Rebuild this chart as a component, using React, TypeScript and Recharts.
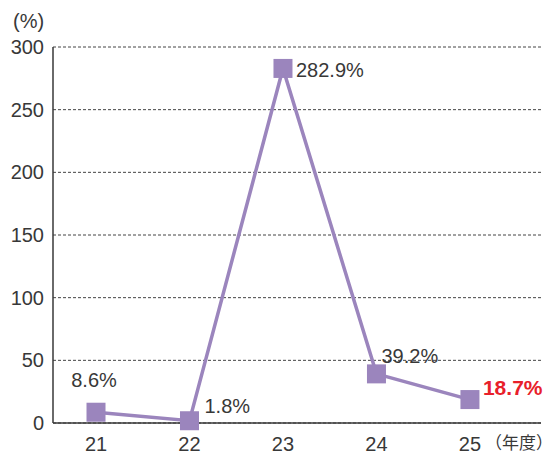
import React from 'react';
import { LineChart, Line, XAxis, YAxis, CartesianGrid, LabelList } from 'recharts';

const years = [21, 22, 23, 24, 25];
const growth = [8.6, 1.8, 282.9, 39.2, 18.7];
const growthLabels = ['8.6%', '1.8%', '282.9%', '39.2%', '18.7%'];
const yTicks = [0, 50, 100, 150, 200, 250, 300];

const data = years.map((y, i) => ({ year: y, value: growth[i], label: growthLabels[i] }));

const PURPLE = '#9b85bd';
const TEXT = '#383838';
const FONT = '"Liberation Sans", Arial, sans-serif';

// where each value label sits relative to its point
const labelPlacement = [
    { dx: -2, dy: -25, anchor: 'middle' },
    { dx: 15, dy: -8, anchor: 'start' },
    { dx: 13, dy: 9, anchor: 'start' },
    { dx: 5, dy: -11, anchor: 'start' },
    { dx: 13, dy: -5, anchor: 'start' },
];

const SquareDot = (props: any) => {
    const { cx, cy } = props;
    if (cx == null || cy == null) return null;
    return <rect x={cx - 9.5} y={cy - 9.5} width={19} height={19} fill={PURPLE} />;
};

const ValueLabel = (props: any) => {
    const { x, y, index, value } = props;
    const p = labelPlacement[index];
    const last = index === growth.length - 1;
    return (
        <text
            x={x + p.dx}
            y={y + p.dy}
            textAnchor={p.anchor}
            fontFamily={FONT}
            fontSize={last ? 21 : 20}
            fontWeight={last ? 'bold' : 'normal'}
            fill={last ? '#e8202a' : TEXT}
        >
            {value}
        </text>
    );
};

const App: React.FC = () => {
    return (
        <div style={{ position: 'absolute', left: 0, top: 0, width: 553, height: 454, background: '#fff', overflow: 'hidden' }}>
            <LineChart width={553} height={454} data={data} margin={{ top: 47, right: 12, left: 0, bottom: 0 }}>
                <CartesianGrid vertical={false} stroke="#444" strokeDasharray="3 2" />
                <XAxis
                    dataKey="year"
                    type="number"
                    domain={[20.54, 25.76]}
                    ticks={years}
                    height={31}
                    tickLine={false}
                    tickSize={0}
                    tickMargin={14}
                    axisLine={{ stroke: TEXT, strokeWidth: 1.5 }}
                    tick={{ fill: TEXT, fontSize: 20, fontFamily: FONT }}
                />
                <YAxis
                    domain={[0, 300]}
                    ticks={yTicks}
                    width={53}
                    tickLine={false}
                    tickSize={0}
                    tickMargin={9}
                    axisLine={{ stroke: TEXT, strokeWidth: 1.5 }}
                    tick={{ fill: TEXT, fontSize: 20, fontFamily: FONT }}
                />
                <Line
                    dataKey="value"
                    stroke={PURPLE}
                    strokeWidth={3.5}
                    dot={<SquareDot />}
                    activeDot={false}
                    isAnimationActive={false}
                >
                    <LabelList dataKey="label" content={<ValueLabel />} />
                </Line>
            </LineChart>
            <div style={{ position: 'absolute', left: 13, top: 11, fontFamily: FONT, fontSize: 20, lineHeight: '20px', color: TEXT }}>
                (%)
            </div>
            <div style={{ position: 'absolute', left: 485, top: 432, fontFamily: '"Noto Sans CJK JP", sans-serif', fontSize: 17, lineHeight: '20px', color: TEXT, whiteSpace: 'nowrap' }}>
                （年度）
            </div>
        </div>
    );
};

export default App;
